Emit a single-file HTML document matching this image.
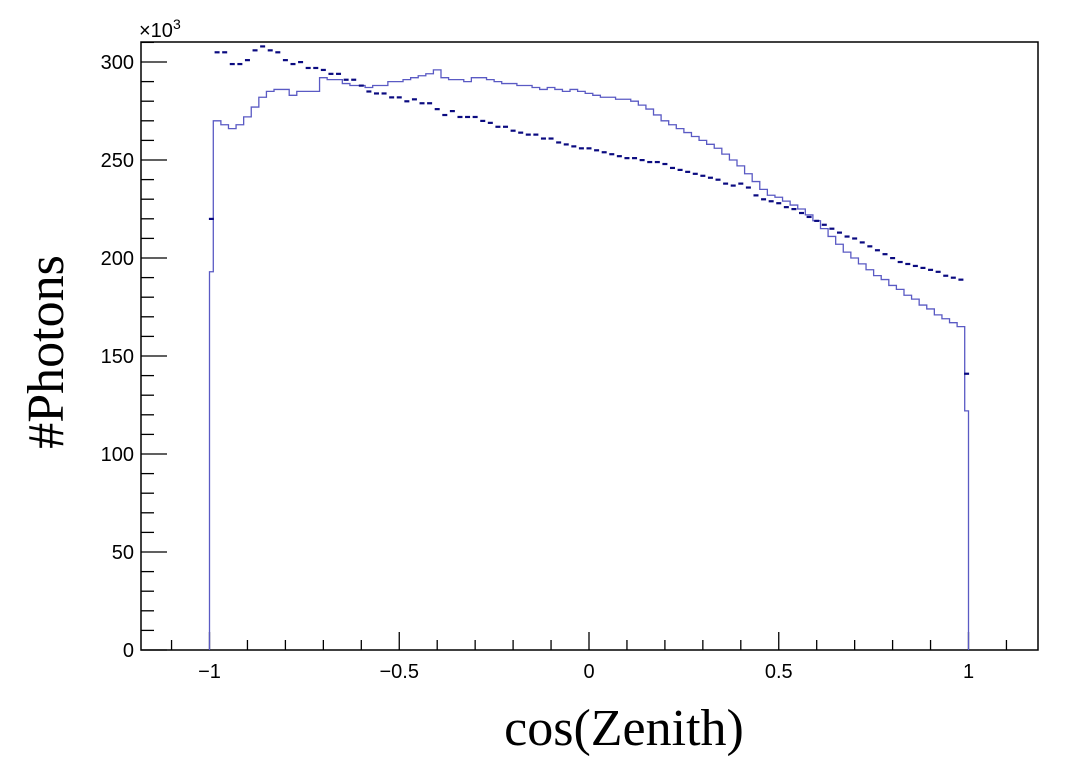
<!DOCTYPE html>
<html><head><meta charset="utf-8"><style>
html,body{margin:0;padding:0;background:#fff;}
svg{display:block;}
</style></head><body>
<svg id="chart" width="1088" height="764" xmlns="http://www.w3.org/2000/svg"></svg>
<script>
const lineValues=[270,268,266,268,272,277,282,285,286,286,283,285,285,285,292,291,291,289,288,288,287,288,288,290,290,291,292,293,294,296,292,291,291,290,292,292,291,290,289,289,288,288,287,286,287,286,285,286,285,284,283,282,282,281,281,280,278,276,273,270,268,266,264,262,260,258,256,253,250,247,243,239,235,232,231,229,227,225,222,219,215,211,207,203,200,197,194,191,189,186,184,181,179,176,174,171,169,167,165];
const dotValues=[305,305,299,299,301,306,308,306,305,301,299,300,297,297,296,294,294,291,291,288,285,284,284,282,282,280,281,279,279,276,273,275,272,272,272,270,269,267,267,265,264,263,263,261,261,259,258,257,256,256,255,254,253,252,251,251,250,249,249,248,246,245,244,243,242,241,240,238,237,238,236,232,230,229,228,226,225,223,221,219,217,215,213,211,210,208,206,204,202,200,198,197,196,195,194,193,191,190,189];
const lineEdges=[193,122];
const dotEdges=[220,141];
const xTickLabels=["\u22121","\u22120.5","0","0.5","1"];
const xTickValues=[-1,-0.5,0,0.5,1];
const yTickValues=[0,50,100,150,200,250,300];
const yTickLabels=["0","50","100","150","200","250","300"];

const NS="http://www.w3.org/2000/svg";
const svg=document.getElementById('chart');
const L=141,R=1038,T=42,B=650;
const X=v=>589+v*379.5;
const Y=v=>650-v*1.96;
function mk(tag,attrs,parent){const e=document.createElementNS(NS,tag);for(const k in attrs)e.setAttribute(k,attrs[k]);(parent||svg).appendChild(e);return e;}

const frame=mk('rect',{x:L,y:T,width:R-L,height:B-T,fill:'none',stroke:'#000','stroke-width':1.5});



const xg=mk('g',{});


for(let k=-11;k<=11;k++){const v=k/10;const x=X(v);const major=(k%5===0);
 mk('line',{x1:x,x2:x,y1:B,y2:B-(major?18:10),stroke:'#000','stroke-width':1.3},xg);}
xTickValues.forEach((v,i)=>{const t=mk('text',{x:X(v),y:B+28,'text-anchor':'middle','font-family':'Liberation Sans, sans-serif','font-size':20},xg);t.textContent=xTickLabels[i];
 
 });
const yg=mk('g',{});


for(let v=0;v<=310;v+=10){const y=Y(v);const major=(v%50===0);
 mk('line',{x1:L,x2:L+(major?26:13),y1:y,y2:y,stroke:'#000','stroke-width':1.3},yg);}
yTickValues.forEach((v,i)=>{const t=mk('text',{x:L-7,y:Y(v)+7,'text-anchor':'end','font-family':'Liberation Sans, sans-serif','font-size':20},yg);t.textContent=yTickLabels[i];
 
 });
const ex=mk('text',{x:139,y:37,'font-family':'Liberation Sans, sans-serif','font-size':20},yg);
ex.innerHTML='\u00d710<tspan dy="-8" font-size="14">3</tspan>';



let d='M'+X(-1)+','+Y(0)+' L'+X(-1)+','+Y(lineEdges[0])+' L'+X(-0.99)+','+Y(lineEdges[0]);
lineValues.forEach((v,i)=>{const x0=X(-0.99+0.02*i),x1=X(-0.97+0.02*i);d+=' L'+x0+','+Y(v)+' L'+x1+','+Y(v);});
d+=' L'+X(0.99)+','+Y(lineEdges[1])+' L'+X(1)+','+Y(lineEdges[1])+' L'+X(1)+','+Y(0);
const path=mk('path',{d:d,fill:'none',stroke:'#5a5ac4','stroke-width':1.3});



const dg=mk('g',{});


function dot(c,v){mk('rect',{x:X(c)-2.5,y:Y(v)-1,width:5,height:2.2,fill:'#0a0a80'},dg);}
dot(-0.995,dotEdges[0]);
dotValues.forEach((v,i)=>dot(-0.98+0.02*i,v));
dot(0.995,dotEdges[1]);

const xt=mk('text',{x:624,y:745,'text-anchor':'middle','font-family':'Liberation Serif, serif','font-size':52});
xt.textContent='cos(Zenith)';


const yt=mk('text',{x:0,y:0,'text-anchor':'middle','font-family':'Liberation Serif, serif','font-size':52,transform:'translate(63,352) rotate(-90)'});
yt.textContent='#Photons';


</script>
</body></html>
